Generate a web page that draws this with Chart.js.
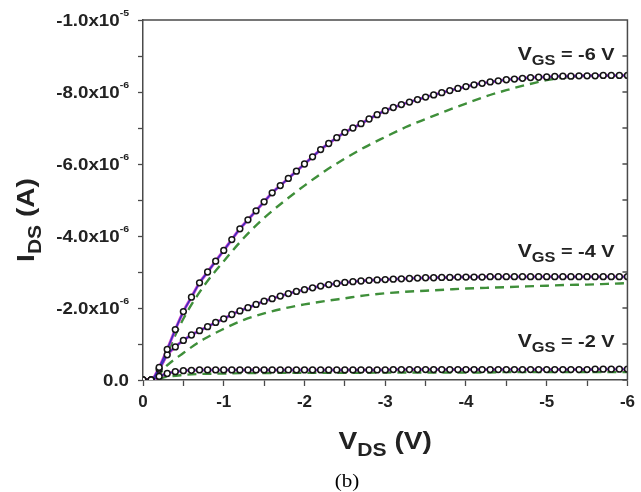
<!DOCTYPE html>
<html>
<head>
<meta charset="utf-8">
<script src="https://cdn.jsdelivr.net/npm/chart.js@4.4.1/dist/chart.umd.min.js"></script>
<style>
  html, body { margin: 0; padding: 0; background: #fff; }
  #grafico { display: block; }
</style>
</head>
<body>
<canvas id="grafico" width="641" height="492"></canvas>
<script>
// V_DS of the measured points (V)
const vdsMedido = [0, -0.1, -0.2, -0.3, -0.4, -0.5, -0.6, -0.7, -0.8, -0.9, -1.0,
  -1.1, -1.2, -1.3, -1.4, -1.5, -1.6, -1.7, -1.8, -1.9, -2.0,
  -2.1, -2.2, -2.3, -2.4, -2.5, -2.6, -2.7, -2.8, -2.9, -3.0,
  -3.1, -3.2, -3.3, -3.4, -3.5, -3.6, -3.7, -3.8, -3.9, -4.0,
  -4.1, -4.2, -4.3, -4.4, -4.5, -4.6, -4.7, -4.8, -4.9, -5.0,
  -5.1, -5.2, -5.3, -5.4, -5.5, -5.6, -5.7, -5.8, -5.9, -6.0];

// I_DS measured, in units of 1e-6 A
const idsVgs6 = [0, 0, -0.35, -0.85, -1.4, -1.9, -2.3, -2.7, -3.0, -3.3, -3.6,
  -3.9, -4.2, -4.45, -4.7, -4.95, -5.2, -5.4, -5.6, -5.8, -6.0,
  -6.2, -6.4, -6.57, -6.73, -6.88, -7.0, -7.12, -7.25, -7.37, -7.48,
  -7.57, -7.65, -7.72, -7.79, -7.86, -7.92, -7.98, -8.04, -8.1, -8.15,
  -8.2, -8.24, -8.28, -8.31, -8.34, -8.36, -8.38, -8.4, -8.41, -8.42,
  -8.43, -8.44, -8.44, -8.45, -8.45, -8.45, -8.46, -8.46, -8.46, -8.46];
const idsVgs4 = [0, 0, -0.3, -0.7, -0.92, -1.1, -1.25, -1.37, -1.48, -1.6, -1.7,
  -1.82, -1.92, -2.01, -2.1, -2.19, -2.26, -2.33, -2.4, -2.46, -2.51,
  -2.56, -2.61, -2.65, -2.68, -2.71, -2.73, -2.75, -2.77, -2.78, -2.79,
  -2.8, -2.81, -2.82, -2.83, -2.84, -2.84, -2.85, -2.85, -2.86, -2.86,
  -2.86, -2.86, -2.87, -2.87, -2.87, -2.87, -2.87, -2.87, -2.87, -2.87,
  -2.87, -2.87, -2.87, -2.87, -2.87, -2.87, -2.87, -2.87, -2.87, -2.87];
const idsVgs2 = [0, 0, -0.1, -0.18, -0.23, -0.26, -0.27, -0.28, -0.28, -0.28, -0.28,
  -0.28, -0.28, -0.28, -0.28, -0.28, -0.28, -0.28, -0.28, -0.28, -0.28,
  -0.28, -0.28, -0.28, -0.28, -0.28, -0.28, -0.28, -0.28, -0.28, -0.28,
  -0.29, -0.29, -0.29, -0.29, -0.29, -0.29, -0.29, -0.29, -0.29, -0.29,
  -0.29, -0.29, -0.29, -0.29, -0.29, -0.29, -0.29, -0.29, -0.29, -0.29,
  -0.29, -0.29, -0.29, -0.29, -0.29, -0.3, -0.3, -0.3, -0.3, -0.3];

// model curves (dashed), in units of 1e-6 A
const vdsModelo = [0, -0.15, -0.25, -0.5, -0.75, -1.0, -1.25, -1.5, -1.75, -2.0, -2.25, -2.5,
  -2.75, -3.0, -3.25, -3.5, -3.75, -4.0, -4.25, -4.5, -4.75, -5.0, -5.25, -5.5, -5.75, -6.0];
const modeloVgs6 = [0, 0, -0.5, -1.7, -2.6, -3.3, -3.95, -4.5, -4.97, -5.4, -5.8, -6.15,
  -6.47, -6.75, -7.02, -7.25, -7.47, -7.68, -7.88, -8.05, -8.2, -8.33, -8.41, -8.45, -8.46, -8.46];
const modeloVgs4 = [0, 0, -0.3, -0.75, -1.13, -1.42, -1.67, -1.85, -1.99, -2.1, -2.19, -2.27,
  -2.35, -2.41, -2.45, -2.48, -2.51, -2.54, -2.56, -2.58, -2.6, -2.62, -2.64, -2.65, -2.67, -2.69];
const modeloVgs2 = [0, 0, -0.07, -0.14, -0.17, -0.18, -0.19, -0.19, -0.2, -0.2, -0.2, -0.2,
  -0.2, -0.21, -0.21, -0.21, -0.21, -0.21, -0.21, -0.22, -0.22, -0.22, -0.22, -0.22, -0.22, -0.22];

// tick labels
const xTicksRotulo = [0, -1, -2, -3, -4, -5, -6];
const yTicksValor = [0, -2, -4, -6, -8, -10];
const yTicksTexto = ['0.0', '-2.0x10', '-4.0x10', '-6.0x10', '-8.0x10', '-1.0x10'];
const yTicksExpoente = ['', '-6', '-6', '-6', '-6', '-5'];

// curve labels
const rotulosVgs = ['-6', '-4', '-2'];
const rotulosVgsX = [-5.84, -5.84, -5.84];
const rotulosVgsY = [-8.9, -3.42, -0.92];

const corEixo = '#4a4a4a';
const fonte = '"Liberation Sans", Arial, sans-serif';
const esticar = 1.17;

const pontos = (xs, ys) => xs.map((x, i) => ({ x, y: ys[i] }));

function serieMedida(ys) {
  return {
    data: pontos(vdsMedido, ys), showLine: false, order: 0,
    pointStyle: 'circle', pointRadius: 2.9, pointBorderWidth: 1.5,
    pointBorderColor: '#151515', pointBackgroundColor: '#fff'
  };
}
function serieAjuste(ys, cor, largura, ordem) {
  return {
    data: pontos(vdsMedido, ys), showLine: true, borderColor: cor, borderWidth: largura,
    pointRadius: 0, cubicInterpolationMode: 'monotone', order: ordem
  };
}
function serieModelo(ys) {
  return {
    data: pontos(vdsModelo, ys), showLine: true, borderColor: '#3f8f3a', borderWidth: 2.4,
    borderDash: [9, 6], pointRadius: 0, cubicInterpolationMode: 'monotone', order: 3
  };
}

// draws text pieces one after the other, stretched horizontally
function textoRico(ctx, partes, x, y, alinhar) {
  let total = 0;
  partes.forEach(p => { ctx.font = p.f; total += ctx.measureText(p.t).width * esticar; });
  let inicio = alinhar === 'right' ? x - total : alinhar === 'center' ? x - total / 2 : x;
  partes.forEach(p => {
    ctx.font = p.f;
    const w = ctx.measureText(p.t).width * esticar;
    ctx.save();
    ctx.translate(inicio, y + (p.dy || 0));
    ctx.scale(esticar, 1);
    ctx.fillText(p.t, 0, 0);
    ctx.restore();
    inicio += w;
  });
}

const rotulos = {
  id: 'rotulos',
  afterDraw(chart) {
    const { ctx, chartArea: a, scales: { x, y } } = chart;
    ctx.save();
    ctx.strokeStyle = corEixo;
    ctx.lineWidth = 1.5;
    ctx.beginPath();
    ctx.moveTo(a.left, a.top);
    ctx.lineTo(a.right, a.top);
    ctx.lineTo(a.right, a.bottom);
    for (let v = 0; v >= -10; v--) {
      const py = y.getPixelForValue(v);
      ctx.moveTo(a.right, py);
      ctx.lineTo(a.right - 5, py);
    }
    ctx.stroke();

    ctx.fillStyle = '#222';
    ctx.textBaseline = 'alphabetic';
    // y tick labels
    yTicksValor.forEach((v, i) => {
      const py = y.getPixelForValue(v);
      const partes = [{ t: yTicksTexto[i], f: 'bold 16px ' + fonte, dy: 0 }];
      if (yTicksExpoente[i]) partes.push({ t: yTicksExpoente[i], f: 'bold 9px ' + fonte, dy: -10 });
      textoRico(ctx, partes, a.left - 14, py + 6, 'right');
    });

    // curve labels
    rotulosVgs.forEach((r, i) => {
      textoRico(ctx, [
        { t: 'V', f: 'bold 18px ' + fonte },
        { t: 'GS', f: 'bold 14px ' + fonte, dy: 5 },
        { t: ' = ' + r + ' V', f: 'bold 17px ' + fonte }
      ], x.getPixelForValue(rotulosVgsX[i]), y.getPixelForValue(rotulosVgsY[i]), 'right');
    });

    // axis titles
    textoRico(ctx, [
      { t: 'V', f: 'bold 24px ' + fonte },
      { t: 'DS', f: 'bold 18px ' + fonte, dy: 7 },
      { t: ' (V)', f: 'bold 24px ' + fonte }
    ], (a.left + a.right) / 2, 449, 'center');

    ctx.save();
    ctx.translate(34, (a.top + a.bottom) / 2 + 20);
    ctx.rotate(-Math.PI / 2);
    textoRico(ctx, [
      { t: 'I', f: 'bold 24px ' + fonte },
      { t: 'DS', f: 'bold 18px ' + fonte, dy: 7 },
      { t: ' (A)', f: 'bold 24px ' + fonte }
    ], 0, 0, 'center');
    ctx.restore();

    ctx.fillStyle = '#000';
    textoRico(ctx, [{ t: '(b)', f: '18px "Liberation Serif", "Times New Roman", serif' }], 347, 487, 'center');
    ctx.restore();
  }
};

new Chart(document.getElementById('grafico'), {
  type: 'scatter',
  data: {
    datasets: [
      serieMedida(idsVgs6), serieMedida(idsVgs4), serieMedida(idsVgs2),
      serieAjuste(idsVgs6, '#3a2fb8', 1.5, 1), serieAjuste(idsVgs4, '#3a2fb8', 1.5, 1), serieAjuste(idsVgs2, '#3a2fb8', 1.5, 1),
      serieAjuste(idsVgs6, '#d23fd2', 3, 2), serieAjuste(idsVgs4, '#d23fd2', 3, 2), serieAjuste(idsVgs2, '#d23fd2', 3, 2),
      serieModelo(modeloVgs6), serieModelo(modeloVgs4), serieModelo(modeloVgs2)
    ]
  },
  options: {
    responsive: false,
    animation: false,
    layout: { padding: { left: 0, right: 11, top: 20, bottom: 0 } },
    plugins: { legend: { display: false }, tooltip: { enabled: false } },
    scales: {
      x: {
        type: 'linear', reverse: true, min: -6, max: 0,
        afterFit: s => { s.height = 112; },
        border: { color: corEixo, width: 1.5 },
        grid: { drawOnChartArea: false, tickLength: 6, tickColor: corEixo, tickWidth: 1.3 },
        ticks: {
          stepSize: 0.5, autoSkip: false, maxRotation: 0, padding: 6,
          color: '#222', font: { family: fonte, size: 17, weight: 'bold' },
          callback: v => xTicksRotulo.includes(v) ? String(v) : ''
        }
      },
      y: {
        type: 'linear', reverse: true, min: -10, max: 0,
        afterFit: s => { s.width = 143; },
        border: { color: corEixo, width: 1.5 },
        grid: { drawOnChartArea: false, tickLength: 5, tickColor: corEixo, tickWidth: 1.3 },
        ticks: { stepSize: 1, autoSkip: false, callback: () => '' }
      }
    }
  },
  plugins: [rotulos]
});
</script>
</body>
</html>
